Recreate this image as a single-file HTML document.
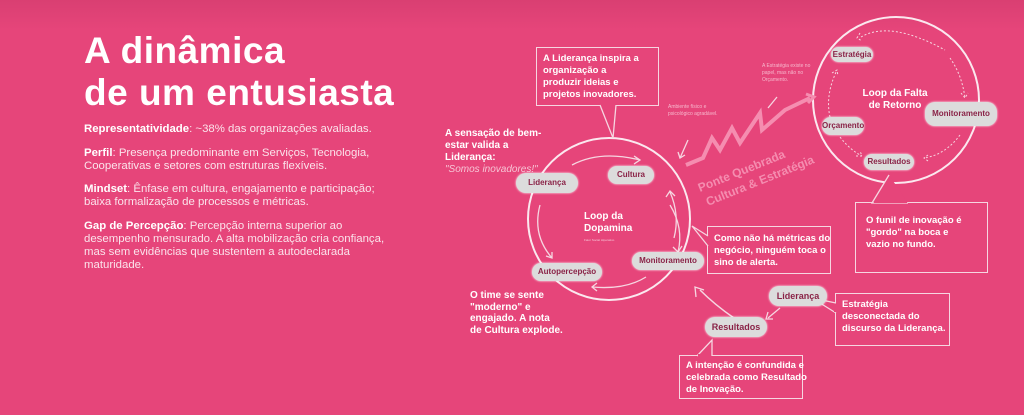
<!DOCTYPE html>
<html style="background:#e6457a"><head><meta charset="utf-8"><style>
html,body{margin:0;width:1024px;height:415px;overflow:hidden}
body{background:linear-gradient(#d93f72 0,#e6457a 30px,#e6457a 100%);font-family:"Liberation Sans",sans-serif;color:#fff;position:relative}
.t{position:absolute}
h1{position:absolute;left:84px;top:30px;margin:0;font-size:37px;line-height:42px;font-weight:bold;letter-spacing:0.5px}
.p{position:absolute;left:84px;font-size:11.4px;line-height:13px;color:#fbe3eb;white-space:nowrap}
.p b{color:#fff}
.box{position:absolute;border:1.5px solid #f6d6e1;font-weight:bold;font-size:9.5px;line-height:12px;padding:5px 6px;box-sizing:border-box;white-space:nowrap;background:#e6457a}
.pill{position:absolute;background:#dcdcdc;color:#8a2347;font-weight:bold;font-size:8px;border-radius:10px;text-align:center;box-shadow:0 0 2px #fff}
</style></head><body>
<h1>A dinâmica<br>de um entusiasta</h1>
<div class="p" style="top:123px"><b>Representatividade</b>: ~38% das organizações avaliadas.</div>
<div class="p" style="top:147px"><b>Perfil</b>: Presença predominante em Serviços, Tecnologia,<br>Cooperativas e setores com estruturas flexíveis.</div>
<div class="p" style="top:183px"><b>Mindset</b>: Ênfase em cultura, engajamento e participação;<br>baixa formalização de processos e métricas.</div>
<div class="p" style="top:220px"><b>Gap de Percepção</b>: Percepção interna superior ao<br>desempenho mensurado. A alta mobilização cria confiança,<br>mas sem evidências que sustentem a autodeclarada<br>maturidade.</div>

<svg style="position:absolute;left:0;top:0" width="1024" height="415">
<g fill="none" stroke="#fbe8ef" stroke-width="2">
<circle cx="609" cy="219" r="81"/>
<circle cx="896" cy="100" r="83"/>
</g>
<g fill="none" stroke="#f6d6e1" stroke-width="1.3">
<path d="M572 165 Q600 150 640 160"/><path d="M634 156 L640 160 L634 164"/>
<path d="M540 205 Q532 235 552 258"/><path d="M546 256 L552 258 L552 252"/>
<path d="M670 205 Q684 228 678 252"/><path d="M673 247 L678 252 L682 246"/>
<path d="M674 238 Q680 215 670 192"/><path d="M666 197 L670 191 L675 196"/>
<path d="M646 277 Q625 290 592 287"/><path d="M597 283 L592 287 L597 291"/>
<path d="M700 290 Q715 305 734 318" stroke-width="1.5"/><path d="M696 297 L695 287 L704 290"/>
<path d="M780 308 L768 318"/><path d="M768 312 L766 319 L773 319"/>
<path d="M688 140 L680 158"/><path d="M678 152 L680 158 L685 155"/>
<path d="M777 97 L768 108"/>
</g>
<g fill="none" stroke="#f6d6e1" stroke-width="1" stroke-dasharray="2 2">
<path d="M861 37 Q890 20 945 50"/><path d="M860 33 L857 38 L862 41"/>
<path d="M950 58 Q962 75 965 98"/><path d="M961 93 L965 98 L968 93"/>
<path d="M960 135 Q945 155 924 158"/><path d="M928 155 L924 158 L928 161"/>
<path d="M840 137 Q850 150 862 156"/><path d="M856 156 L862 156 L860 151"/>
<path d="M830 117 Q825 95 837 70"/><path d="M832 73 L837 70 L838 76"/>
</g>
<path d="M686 165 L703 158 L712 138 L720 150 L732 128 L740 143 L760 113 L762 130 L785 110 L810 98" fill="none" stroke="#f58db0" stroke-width="4"/>
<path d="M806 94 L814 97 L808 103" fill="none" stroke="#f58db0" stroke-width="3"/>
<text x="700" y="192" transform="rotate(-22 700 192)" fill="#f58db0" font-weight="bold" font-size="12" font-family="Liberation Sans">Ponte Quebrada</text>
<text x="708" y="206" transform="rotate(-22 708 206)" fill="#f58db0" font-weight="bold" font-size="12" font-family="Liberation Sans">Cultura &amp; Estratégia</text>
</svg>

<div class="box" style="left:536px;top:47px;width:123px;height:59px">A Liderança inspira a<br>organização a<br>produzir ideias e<br>projetos inovadores.</div>
<div class="box" style="left:707px;top:226px;width:124px;height:48px;padding-top:6px">Como não há métricas do<br>negócio, ninguém toca o<br>sino de alerta.</div>
<div class="box" style="left:855px;top:202px;width:133px;height:71px;padding:12px 10px">O funil de inovação é<br>"gordo" na boca e<br>vazio no fundo.</div>
<div class="box" style="left:835px;top:293px;width:115px;height:53px;padding-top:5px">Estratégia<br>desconectada do<br>discurso da Liderança.</div>
<div class="box" style="left:679px;top:355px;width:124px;height:44px;padding-top:4px">A intenção é confundida e<br>celebrada como Resultado<br>de Inovação.</div>

<svg style="position:absolute;left:0;top:0" width="1024" height="415">
<g fill="#e6457a" stroke="#f6d6e1" stroke-width="1.3">
<path d="M600 105 L613 138 L616 105"/>
<path d="M708 236 L692 226 L708 246"/>
<path d="M889 175 L872 203 L908 203"/>
<path d="M836 303 L812 298 L836 313"/>
<path d="M697 356 L712 340 L712 356"/>
</g>
<g stroke="#e6457a" stroke-width="2"><path d="M601 105 L615 105"/><path d="M709 237 L709 245"/><path d="M874 202 L907 202"/><path d="M835 304 L835 312"/><path d="M698 355 L711 355"/></g>
</svg>

<div class="t" style="left:445px;top:128px;font-size:10px;line-height:12px;font-weight:bold;white-space:nowrap">A sensação de bem-<br>estar valida a<br>Liderança:<br><i style="font-weight:normal;color:#f7c4d5">"Somos inovadores!"</i></div>
<div class="t" style="left:470px;top:290px;font-size:10px;line-height:11.5px;font-weight:bold;white-space:nowrap">O time se sente<br>"moderno" e<br>engajado. A nota<br>de Cultura explode.</div>
<div class="t" style="left:668px;top:104px;font-size:5px;line-height:7px;color:#f7b9ce;width:50px">Ambiente físico e psicológico agradável.</div>
<div class="t" style="left:762px;top:63px;font-size:5px;line-height:7px;color:#f7b9ce;width:55px">A Estratégia existe no papel, mas não no Orçamento.</div>
<div class="t" style="left:584px;top:211px;font-size:10px;line-height:12px;font-weight:bold">Loop da<br>Dopamina</div>
<div class="t" style="left:584px;top:238px;font-size:3px;color:#f7c4d5">Fator Social Hiperativo</div>
<div class="t" style="left:855px;top:88px;font-size:10px;line-height:12px;font-weight:bold;text-align:center;width:80px">Loop da Falta<br>de Retorno</div>

<div class="pill" style="left:516px;top:173px;width:62px;height:20px;line-height:20px">Liderança</div>
<div class="pill" style="left:608px;top:166px;width:46px;height:18px;line-height:18px">Cultura</div>
<div class="pill" style="left:632px;top:252px;width:72px;height:18px;line-height:18px">Monitoramento</div>
<div class="pill" style="left:532px;top:263px;width:70px;height:18px;line-height:18px">Autopercepção</div>
<div class="pill" style="left:831px;top:47px;width:42px;height:15px;line-height:15px">Estratégia</div>
<div class="pill" style="left:925px;top:102px;width:72px;height:24px;line-height:24px">Monitoramento</div>
<div class="pill" style="left:822px;top:117px;width:42px;height:18px;line-height:18px">Orçamento</div>
<div class="pill" style="left:864px;top:154px;width:50px;height:16px;line-height:16px">Resultados</div>
<div class="pill" style="left:769px;top:286px;width:58px;height:20px;line-height:20px;font-size:9px">Liderança</div>
<div class="pill" style="left:705px;top:317px;width:62px;height:20px;line-height:20px;font-size:9px">Resultados</div>
</body></html>
